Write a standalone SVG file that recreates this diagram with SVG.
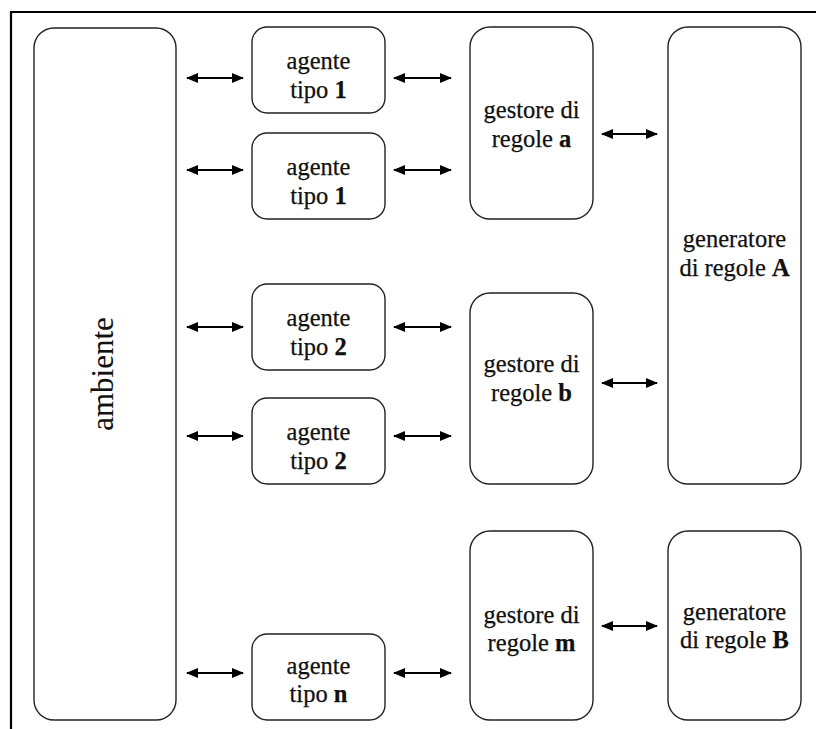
<svg xmlns="http://www.w3.org/2000/svg" width="816" height="729" viewBox="0 0 816 729">
<defs>
<marker id="ah" viewBox="0 0 12 10" refX="11" refY="5" markerWidth="12" markerHeight="10" markerUnits="userSpaceOnUse" orient="auto-start-reverse">
<path d="M0,0 L12,5 L0,10 z" fill="#000"/>
</marker>
<style>
.box{fill:#fff;stroke:#222;stroke-width:1.4}
.t{font-family:"Liberation Serif","Times New Roman",serif;font-size:24.5px;fill:#111;stroke:#111;stroke-width:0.25;text-anchor:middle}
.b{font-weight:bold}
.arr{stroke:#000;stroke-width:2;fill:none;marker-start:url(#ah);marker-end:url(#ah)}
.frame{stroke:#000;stroke-width:2.2;fill:none}
</style>
</defs>
<rect width="816" height="729" fill="#fff"/>
<path class="frame" d="M11,729 V12 H816"/>

<g id="ambiente">
<rect class="box" x="34" y="28" width="142" height="692" rx="20"/>
<text class="t" transform="translate(113,374) rotate(-90)" x="0" y="0" style="font-size:31px;stroke-width:0.1">ambiente</text>
</g>

<g id="agente1a">
<rect class="box" x="252" y="27" width="133" height="86" rx="15"/>
<text class="t" x="318.5" y="69">agente</text>
<text class="t" x="318.5" y="98">tipo <tspan class="b">1</tspan></text>
</g>
<g id="agente1b">
<rect class="box" x="252" y="133" width="133" height="86" rx="15"/>
<text class="t" x="318.5" y="175">agente</text>
<text class="t" x="318.5" y="204">tipo <tspan class="b">1</tspan></text>
</g>
<g id="agente2a">
<rect class="box" x="252" y="284" width="133" height="86" rx="15"/>
<text class="t" x="318.5" y="326">agente</text>
<text class="t" x="318.5" y="355">tipo <tspan class="b">2</tspan></text>
</g>
<g id="agente2b">
<rect class="box" x="252" y="398" width="133" height="86" rx="15"/>
<text class="t" x="318.5" y="440">agente</text>
<text class="t" x="318.5" y="469">tipo <tspan class="b">2</tspan></text>
</g>
<g id="agenten">
<rect class="box" x="252" y="634" width="133" height="86" rx="15"/>
<text class="t" x="318.5" y="674">agente</text>
<text class="t" x="318.5" y="702">tipo <tspan class="b">n</tspan></text>
</g>

<g id="gestorea">
<rect class="box" x="470" y="27" width="123" height="192" rx="20"/>
<text class="t" x="531.5" y="118">gestore di</text>
<text class="t" x="531.5" y="147">regole <tspan class="b">a</tspan></text>
</g>
<g id="gestoreb">
<rect class="box" x="470" y="293" width="123" height="191" rx="20"/>
<text class="t" x="531.5" y="372">gestore di</text>
<text class="t" x="531.5" y="401">regole <tspan class="b">b</tspan></text>
</g>
<g id="gestorem">
<rect class="box" x="470" y="531" width="123" height="189" rx="20"/>
<text class="t" x="531.5" y="623">gestore di</text>
<text class="t" x="531.5" y="651">regole <tspan class="b">m</tspan></text>
</g>

<g id="generatoreA">
<rect class="box" x="668" y="27" width="133" height="457" rx="20"/>
<text class="t" x="734.5" y="247">generatore</text>
<text class="t" x="734.5" y="276">di regole <tspan class="b">A</tspan></text>
</g>
<g id="generatoreB">
<rect class="box" x="668" y="531" width="133" height="189" rx="20"/>
<text class="t" x="734.5" y="620">generatore</text>
<text class="t" x="734.5" y="648">di regole <tspan class="b">B</tspan></text>
</g>

<g id="connectors">
<line class="arr" x1="187" y1="78" x2="243" y2="78"/>
<line class="arr" x1="187" y1="170" x2="243" y2="170"/>
<line class="arr" x1="187" y1="327" x2="243" y2="327"/>
<line class="arr" x1="187" y1="436" x2="243" y2="436"/>
<line class="arr" x1="187" y1="673" x2="243" y2="673"/>
<line class="arr" x1="394" y1="78" x2="451" y2="78"/>
<line class="arr" x1="394" y1="170" x2="451" y2="170"/>
<line class="arr" x1="394" y1="327" x2="451" y2="327"/>
<line class="arr" x1="394" y1="436" x2="451" y2="436"/>
<line class="arr" x1="394" y1="673" x2="451" y2="673"/>
<line class="arr" x1="602" y1="134" x2="657" y2="134"/>
<line class="arr" x1="602" y1="383" x2="657" y2="383"/>
<line class="arr" x1="602" y1="626" x2="657" y2="626"/>
</g>
</svg>
